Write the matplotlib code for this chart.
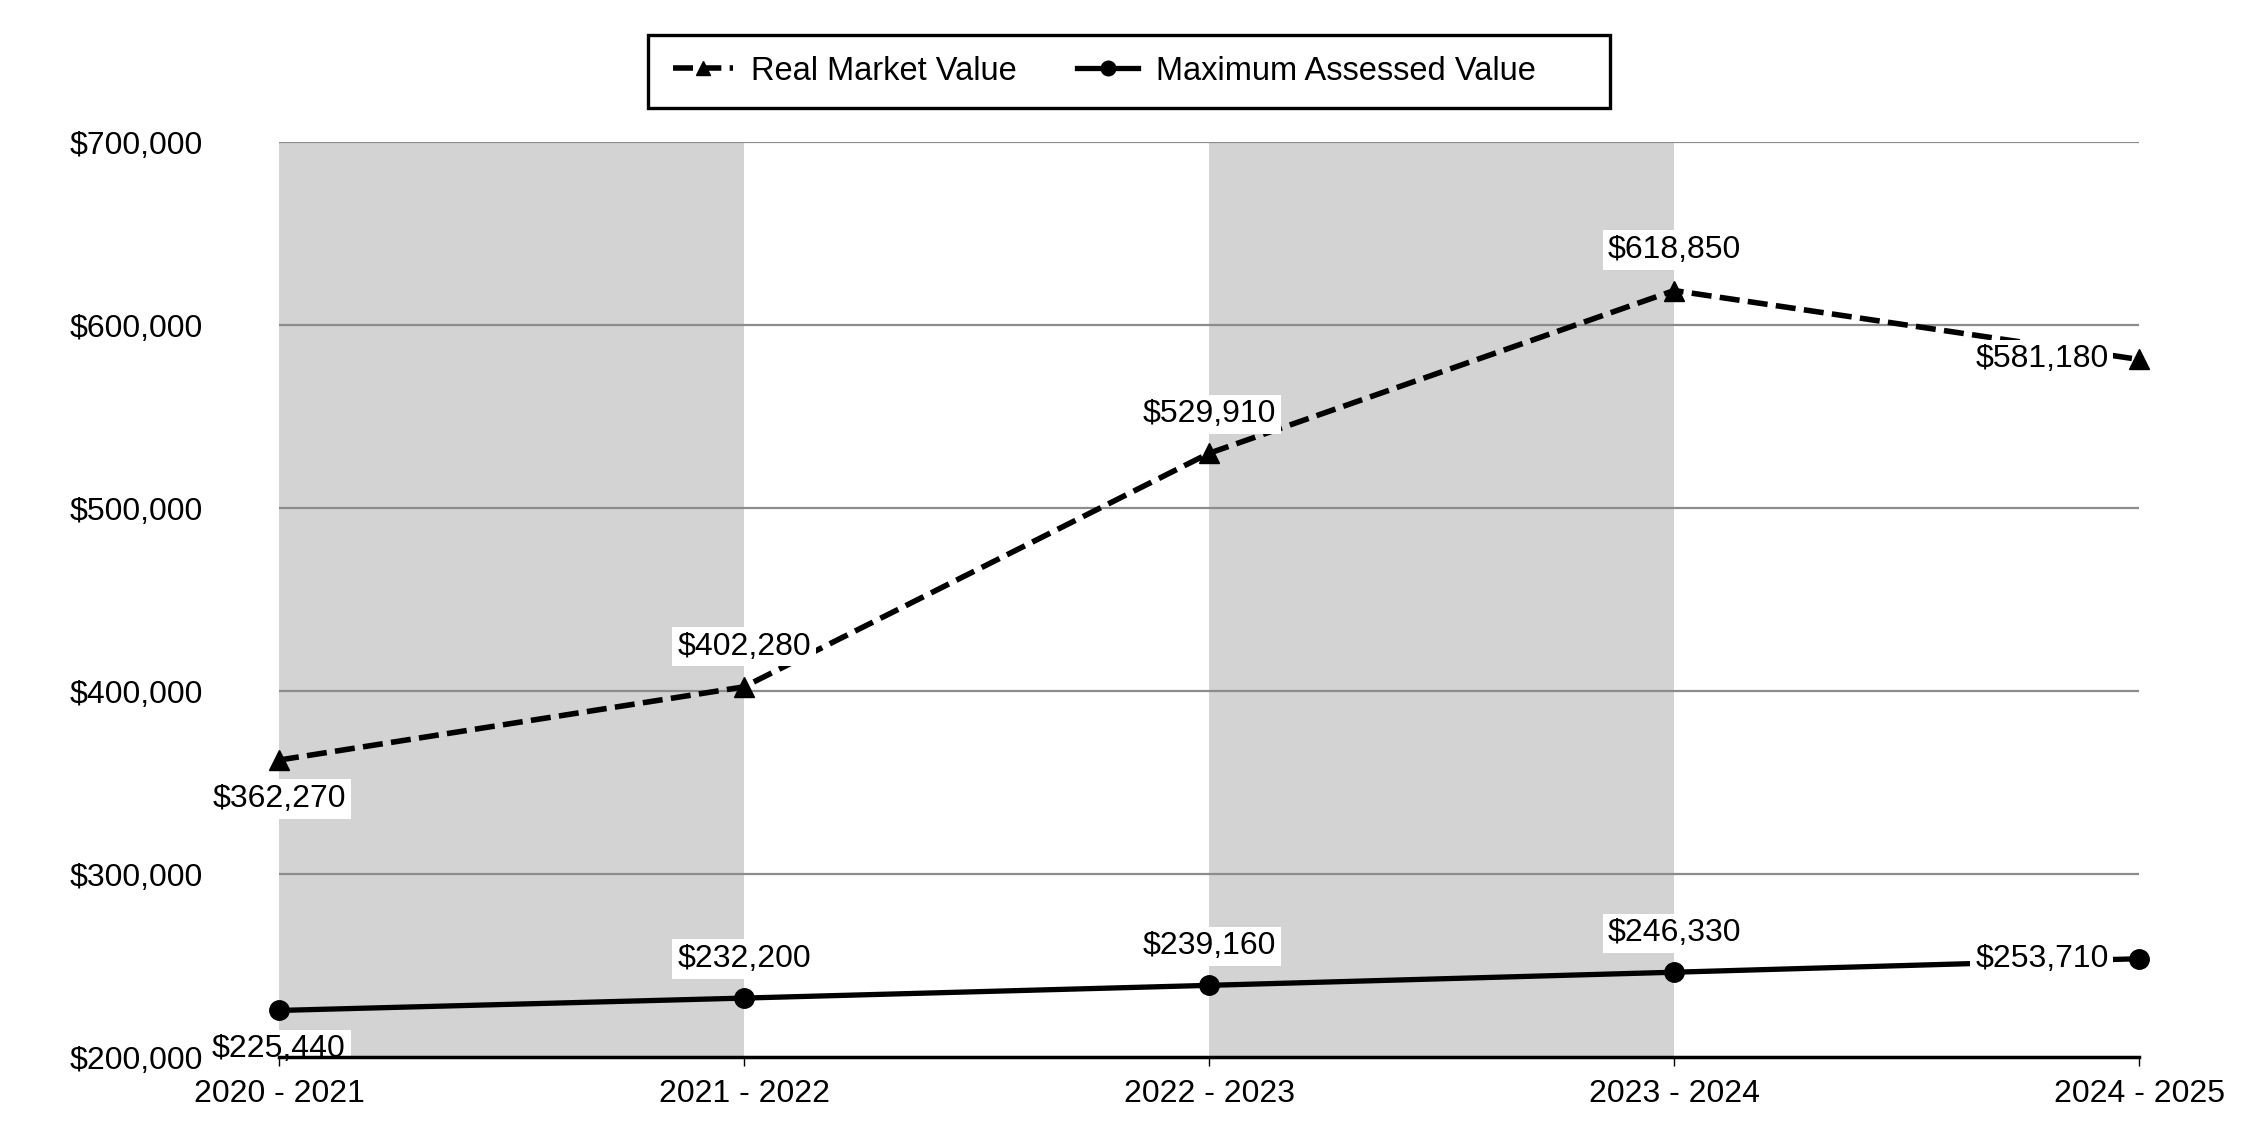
import matplotlib
matplotlib.use('Agg')
import matplotlib.pyplot as plt
from matplotlib.patches import Rectangle
from matplotlib.ticker import FuncFormatter

plt.rcParams['font.family'] = ['Liberation Sans', 'DejaVu Sans']

years = ["2020 - 2021", "2021 - 2022", "2022 - 2023", "2023 - 2024", "2024 - 2025"]
real_market = [362270, 402280, 529910, 618850, 581180]
max_assessed = [225440, 232200, 239160, 246330, 253710]
y_ticks = [200000, 300000, 400000, 500000, 600000, 700000]

FS = 23
W, H = 2250, 1140

fig = plt.figure(figsize=(W / 100, H / 100), dpi=100)
ax = fig.add_axes([0.124, 0.0728, 0.8267, 0.8026])

x = list(range(len(years)))

# alternating shaded bands
for i in range(0, len(years) - 1, 2):
    ax.axvspan(i, i + 1, color='#d3d3d3', lw=0, zorder=0)

for v in y_ticks[1:]:
    ax.axhline(v, color='#8c8c8c', lw=1.6, zorder=1)

ax.plot(x, real_market, color='black', lw=4, dashes=(3.6, 1.5),
        marker='^', markersize=14, clip_on=False, zorder=3,
        label='Real Market Value')
ax.plot(x, max_assessed, color='black', lw=3.8, marker='o', markersize=14,
        clip_on=False, zorder=3, label='Maximum Assessed Value')

box = dict(boxstyle='square,pad=0.15', fc='white', ec='none')


def label_points(vals, offsets):
    for xi, v, (dx, dy, ha) in zip(x, vals, offsets):
        ax.annotate(f"${v:,.0f}", (xi, v), xytext=(dx, dy),
                    textcoords='offset points', ha=ha, va='center',
                    fontsize=FS, bbox=box, zorder=5, annotation_clip=False)


label_points(real_market, [(0, -28, 'center'), (0, 29, 'center'),
                           (0, 28, 'center'), (0, 29, 'center'),
                           (-22, 0, 'right')])
label_points(max_assessed, [(0, -28, 'center'), (0, 28, 'center'),
                            (0, 28, 'center'), (0, 28, 'center'),
                            (-22, 0, 'right')])

ax.set_xlim(0, len(years) - 1)
ax.set_ylim(y_ticks[0], y_ticks[-1])
ax.set_xticks(x)
ax.set_xticklabels(years, fontsize=FS)
ax.set_yticks(y_ticks)
ax.yaxis.set_major_formatter(FuncFormatter(lambda v, p: f"${v:,.0f}"))
ax.tick_params(axis='y', length=0, pad=55, labelsize=FS)
ax.tick_params(axis='x', length=6.5, width=1, pad=9, color='black')

for s in ['left', 'right', 'top']:
    ax.spines[s].set_visible(False)
ax.spines['bottom'].set_linewidth(2.5)
ax.spines['bottom'].set_zorder(6)
ax.xaxis.set_zorder(6)

# legend without its own frame; the box is drawn separately
leg = fig.legend(loc='center left', bbox_to_anchor=(673 / W, 1 - 71 / H),
                 ncol=2, fontsize=23.5, frameon=False, borderpad=0,
                 borderaxespad=0, handlelength=1.85, handletextpad=0.55,
                 columnspacing=1.85, markerscale=0.75)
fig.patches.append(Rectangle((648 / W, 1 - 108 / H), (1610 - 648) / W, 73 / H,
                             transform=fig.transFigure, fill=False,
                             ec='black', lw=2.4))

fig.savefig('out.png', dpi=100)
